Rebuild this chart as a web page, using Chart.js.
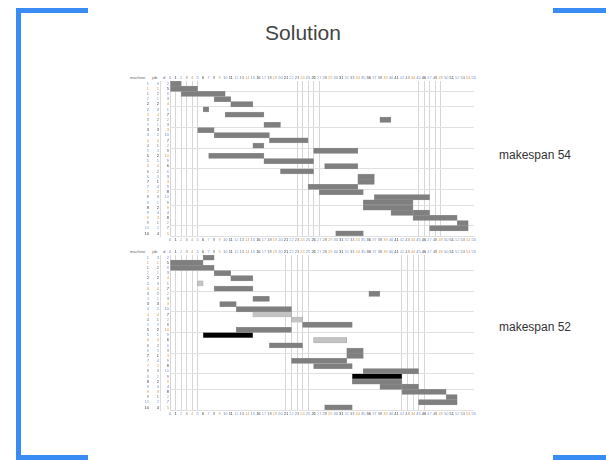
<!DOCTYPE html>
<html>
<head>
<meta charset="utf-8">
<script src="https://cdn.jsdelivr.net/npm/chart.js@4.4.0/dist/chart.umd.min.js"></script>
<style>
    body { margin: 0; background: #fff; width: 606px; height: 460px; overflow: hidden; position: relative;
           font-family: "Liberation Sans", Arial, sans-serif; }
    .bracket { position: absolute; background: #3a8cf5; }
    .title { position: absolute; left: 0; width: 606px; top: 21px; text-align: center; font-size: 21px; color: #444; }
    .side { position: absolute; left: 499px; font-size: 12px; color: #333; }
    .head { position: absolute; font-size: 4px; color: #666; }
    canvas { position: absolute; }
</style>
</head>
<body>
<div class="bracket" style="left:16px;top:8px;width:5px;height:452px"></div>
<div class="bracket" style="left:16px;top:8px;width:72px;height:5px"></div>
<div class="bracket" style="left:16px;top:455px;width:72px;height:5px"></div>
<div class="bracket" style="left:553px;top:8px;width:53px;height:5px"></div>
<div class="bracket" style="left:553px;top:455px;width:53px;height:5px"></div>

<div class="title">Solution</div>
<div class="side" style="top:148px">makespan 54</div>
<div class="side" style="top:320px">makespan 52</div>

<div class="head" style="left:130px;top:75px">machine</div>
<div class="head" style="left:152px;top:75px">job</div>
<div class="head" style="left:163px;top:75px">d</div>
<div class="head" style="left:130px;top:249px">machine</div>
<div class="head" style="left:152px;top:249px">job</div>
<div class="head" style="left:163px;top:249px">d</div>

<canvas id="topChart" width="351" height="172" style="left:126px;top:72px"></canvas>
<canvas id="bottomChart" width="351" height="172" style="left:126px;top:246px"></canvas>

<script>
// time axis: one tick per unit
const timeMax = 55;

// left label columns (shared by both schedules)
const machineCol = ['1','1','1','2','2','2','3','3','3','3','4','4','4','5','5','5','6','6','6','7','7','7','8','8','8','9','9','9','10','10'];
const jobCol = ['3','1','2','1','2','3','4','2','1','3','2','4','1','3','2','1','4','2','3','1','4','2','3','1','2','4','3','1','2','4'];
const durCol = ['2','5','8','3','4','1','7','2','3','3','10','7','2','8','10','9','6','6','3','3','9','8','10','9','9','4','8','2','7','5'];

// makespan 54 schedule: [start, end] per row
const topRows = [
    [0, 2], [0, 5], [2, 10], [8, 11], [11, 15], [6, 7], [10, 17], [38, 40], [17, 20], [5, 8],
    [8, 18], [18, 25], [15, 17], [26, 34], [7, 17], [17, 26], [28, 34], [20, 26], [34, 37], [34, 37],
    [25, 34], [27, 35], [37, 47], [35, 44], [35, 44], [40, 44], [44, 52], [52, 54], [47, 54], [30, 35]
];
const topSecond = { 25: [44, 47] };
const topShade = [];

// makespan 52 schedule
const bottomRows = [
    [6, 8], [0, 6], [0, 8], [8, 11], [11, 15], [5, 6], [8, 15], [36, 38], [15, 18], [9, 12],
    [12, 22], [15, 22], [22, 24], [24, 33], [12, 22], [6, 15], [26, 32], [18, 24], [32, 35], [32, 35],
    [22, 32], [26, 33], [35, 45], [33, 42], [33, 42], [38, 42], [42, 50], [50, 52], [45, 52], [28, 33]
];
const bottomSecond = { 25: [42, 45] };
const bottomShade = ['g','g','g','g','g','l','g','g','g','g','g','l','l','g','g','k','l','g','g','g',
                     'g','g','g','k','g','g','g','g','g','g'];

// vertical guide lines and row separators seen in each chart
const topGuides = [0, 1, 2, 3, 4, 5, 23, 24, 25, 26, 27, 45, 46, 47, 48, 49];
const topSeparators = [2, 5, 9, 13, 17, 21, 24, 28];
const bottomGuides = [0, 1, 2, 3, 4, 5, 21, 22, 23, 24, 25, 42, 43, 44, 45, 46];
const bottomSeparators = [3, 7, 11, 15, 19, 23, 26];

const shadeColors = { g: '#7f7f7f', l: '#c3c3c3', k: '#000000' };
const tickPalette = ['#6b8fc9', '#777777', '#3d3d3d', '#d99a4e', '#8aa9d6'];

Chart.defaults.font.family = '"Liberation Sans", Arial, sans-serif';

function labelAxis(labels, weight, border) {
    return {
        type: 'category',
        labels: labels,
        position: 'left',
        weight: weight,
        offset: true,
        grid: { display: false, drawTicks: false },
        border: { display: border, color: '#dcdcdc' },
        ticks: { autoSkip: false, font: { size: 4 }, padding: 1, color: ctx => tickPalette[(ctx.index * 3) % 5] },
        afterFit: function(scale) { scale.width = weight === 2 ? 24 : 10; }
    };
}

function timeAxis(position, height) {
    return {
        type: 'linear',
        position: position,
        min: 0,
        max: timeMax,
        ticks: { stepSize: 1, autoSkip: false, maxRotation: 0, font: { size: 4 }, padding: 1,
                 color: ctx => tickPalette[(ctx.index * 7) % 5] },
        grid: { display: false, drawTicks: false },
        border: { display: false },
        afterFit: function(scale) { scale.height = height; }
    };
}

function makeGantt(canvasId, rows, second, shade, guides, separators) {
    const colors = rows.map((_, i) => shadeColors[shade[i] || 'g']);
    const secondData = rows.map((_, i) => second[i] || null);

    const bottomAxis = timeAxis('bottom', 8);
    bottomAxis.grid = {
        display: true,
        drawTicks: false,
        color: ctx => guides.includes(ctx.tick.value) ? '#d6d6d6' : 'rgba(0,0,0,0)'
    };

    new Chart(document.getElementById(canvasId), {
        type: 'bar',
        data: {
            labels: durCol,
            datasets: [{
                data: rows,
                backgroundColor: colors,
                borderColor: '#9c9c9c',
                borderWidth: 0.5,
                borderSkipped: false,
                grouped: false,
                barPercentage: 1,
                categoryPercentage: 1
            }, {
                data: secondData,
                backgroundColor: '#7f7f7f',
                borderColor: '#9c9c9c',
                borderWidth: 0.5,
                borderSkipped: false,
                grouped: false,
                barPercentage: 1,
                categoryPercentage: 1
            }]
        },
        options: {
            indexAxis: 'y',
            responsive: false,
            animation: false,
            layout: { padding: 0 },
            plugins: {
                legend: { display: false },
                tooltip: { enabled: false }
            },
            scales: {
                x: bottomAxis,
                xTop: timeAxis('top', 9),
                y: {
                    type: 'category',
                    position: 'left',
                    weight: 0,
                    grid: {
                        drawTicks: false,
                        color: ctx => (ctx.index === undefined || separators.includes(ctx.index)) ? '#e0e0e0' : 'rgba(0,0,0,0)'
                    },
                    border: { display: false },
                    ticks: { autoSkip: false, font: { size: 4 }, padding: 1,
                             color: ctx => tickPalette[(ctx.index * 2) % 5] },
                    afterFit: function(scale) { scale.width = 10; }
                },
                yJob: labelAxis(jobCol, 1, true),
                yMachine: labelAxis(machineCol, 2, false)
            }
        }
    });
}

makeGantt('topChart', topRows, topSecond, topShade, topGuides, topSeparators);
makeGantt('bottomChart', bottomRows, bottomSecond, bottomShade, bottomGuides, bottomSeparators);
</script>
</body>
</html>
